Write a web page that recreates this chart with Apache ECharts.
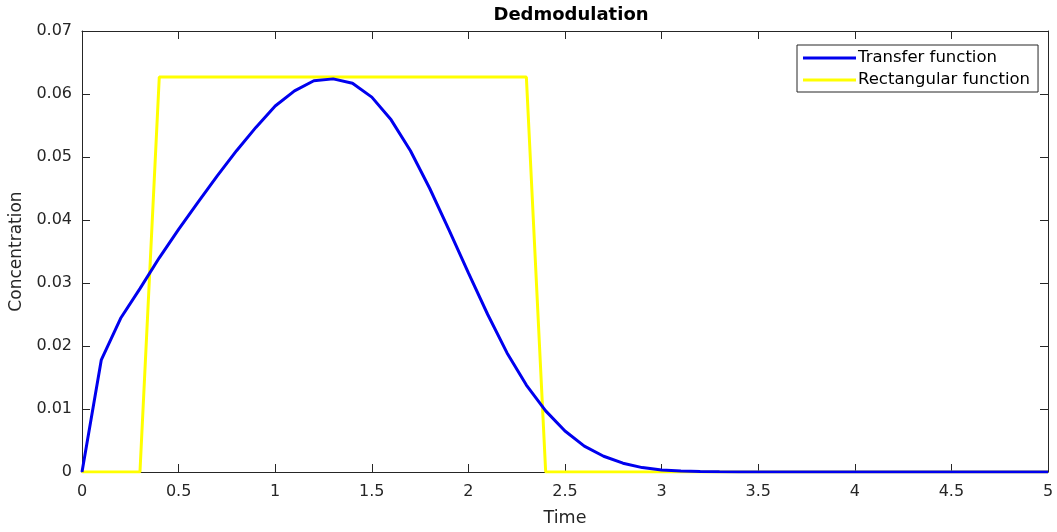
<!DOCTYPE html>
<html>
<head>
<meta charset="utf-8">
<script src="https://cdn.jsdelivr.net/npm/echarts@6/dist/echarts.min.js"></script>
<style>
  html, body { margin: 0; padding: 0; background: #ffffff; }
  #chart { width: 1057px; height: 532px; }
</style>
</head>
<body>
<div id="chart"></div>
<script>
// Sample times (s)
const timeValues = [
  0, 0.1, 0.2, 0.3, 0.4, 0.5, 0.6, 0.7, 0.8, 0.9,
  1.0, 1.1, 1.2, 1.3, 1.4, 1.5, 1.6, 1.7, 1.8, 1.9,
  2.0, 2.1, 2.2, 2.3, 2.4, 2.5, 2.6, 2.7, 2.8, 2.9,
  3.0, 3.1, 3.2, 3.3, 3.4, 3.5, 3.6, 3.7, 3.8, 3.9,
  4.0, 4.1, 4.2, 4.3, 4.4, 4.5, 4.6, 4.7, 4.8, 4.9,
  5.0
];

// Transfer function concentration at each sample time
const transferValues = [
  0, 0.0178, 0.0244, 0.0291, 0.0340, 0.0385, 0.0428, 0.0470, 0.0510, 0.0547,
  0.0581, 0.0605, 0.0621, 0.0624, 0.0617, 0.0595, 0.0559, 0.0510, 0.0450, 0.0384,
  0.0316, 0.0250, 0.0189, 0.0138, 0.0097, 0.0065, 0.0041, 0.0025, 0.0014, 0.0007,
  0.0003, 0.00015, 0.00007, 0.00003, 0.00001, 0, 0, 0, 0, 0,
  0, 0, 0, 0, 0, 0, 0, 0, 0, 0,
  0
];

// Rectangular pulse at each sample time
const rectValues = [
  0, 0, 0, 0, 0.0627, 0.0627, 0.0627, 0.0627, 0.0627, 0.0627,
  0.0627, 0.0627, 0.0627, 0.0627, 0.0627, 0.0627, 0.0627, 0.0627, 0.0627, 0.0627,
  0.0627, 0.0627, 0.0627, 0.0627, 0, 0, 0, 0, 0, 0,
  0, 0, 0, 0, 0, 0, 0, 0, 0, 0,
  0, 0, 0, 0, 0, 0, 0, 0, 0, 0,
  0
];

const seriesNames = ['Transfer function', 'Rectangular function'];
const titleText = 'Dedmodulation';
const xAxisTitle = 'Time';
const yAxisTitle = 'Concentration';

const pairs = (xs, ys) => xs.map((x, i) => [x, ys[i]]);

const FONT = 'DejaVu Sans';
const AXIS_COLOR = '#262626';

const frameAxis = {
  axisLine: { show: true, onZero: false, lineStyle: { color: AXIS_COLOR, width: 1 } },
  axisTick: { show: true, inside: true, length: 8, lineStyle: { color: AXIS_COLOR, width: 1 } },
  splitLine: { show: false }
};

const chart = echarts.init(document.getElementById('chart'), null, { renderer: 'canvas' });

chart.setOption({
  animation: false,
  backgroundColor: '#ffffff',
  title: {
    text: titleText,
    left: 566,
    textAlign: 'center',
    top: 1,
    textStyle: { fontFamily: FONT, fontSize: 18, fontWeight: 'bold', color: '#000000' }
  },
  legend: {
    data: seriesNames,
    orient: 'vertical',
    left: 797,
    top: 45,
    padding: [4, 8, 3, 6],
    itemGap: 4,
    itemWidth: 53,
    itemHeight: 3,
    icon: 'rect',
    borderColor: AXIS_COLOR,
    borderWidth: 1,
    backgroundColor: '#ffffff',
    textStyle: { fontFamily: FONT, fontSize: 16.5, color: '#000000', lineHeight: 18, padding: [0, 0, 0, -3] }
  },
  grid: { left: 82, right: 9, top: 31, bottom: 60, containLabel: false, outerBoundsMode: 'none' },
  xAxis: [
    Object.assign({
      type: 'value', min: 0, max: 5, interval: 0.5,
      name: xAxisTitle, nameLocation: 'middle', nameGap: 37,
      nameTextStyle: { fontFamily: FONT, fontSize: 17.5, color: AXIS_COLOR },
      axisLabel: { fontFamily: FONT, fontSize: 16, color: AXIS_COLOR, margin: 12 }
    }, frameAxis),
    Object.assign({
      type: 'value', min: 0, max: 5, interval: 0.5, position: 'top',
      axisLabel: { show: false }
    }, frameAxis)
  ],
  yAxis: [
    Object.assign({
      type: 'value', min: 0, max: 0.07, interval: 0.01,
      name: yAxisTitle, nameLocation: 'middle', nameGap: 56,
      nameTextStyle: { fontFamily: FONT, fontSize: 17, color: AXIS_COLOR },
      axisLabel: { fontFamily: FONT, fontSize: 16, color: AXIS_COLOR, margin: 10 }
    }, frameAxis),
    Object.assign({
      type: 'value', min: 0, max: 0.07, interval: 0.01, position: 'right',
      axisLabel: { show: false }
    }, frameAxis)
  ],
  series: [
    {
      name: seriesNames[0],
      type: 'line',
      data: pairs(timeValues, transferValues),
      symbol: 'none',
      z: 3,
      lineStyle: { color: '#0000ee', width: 3 },
      itemStyle: { color: '#0000ee' }
    },
    {
      name: seriesNames[1],
      type: 'line',
      data: pairs(timeValues, rectValues),
      symbol: 'none',
      z: 2,
      lineStyle: { color: '#ffff00', width: 3 },
      itemStyle: { color: '#ffff00' }
    }
  ]
});
</script>
</body>
</html>
